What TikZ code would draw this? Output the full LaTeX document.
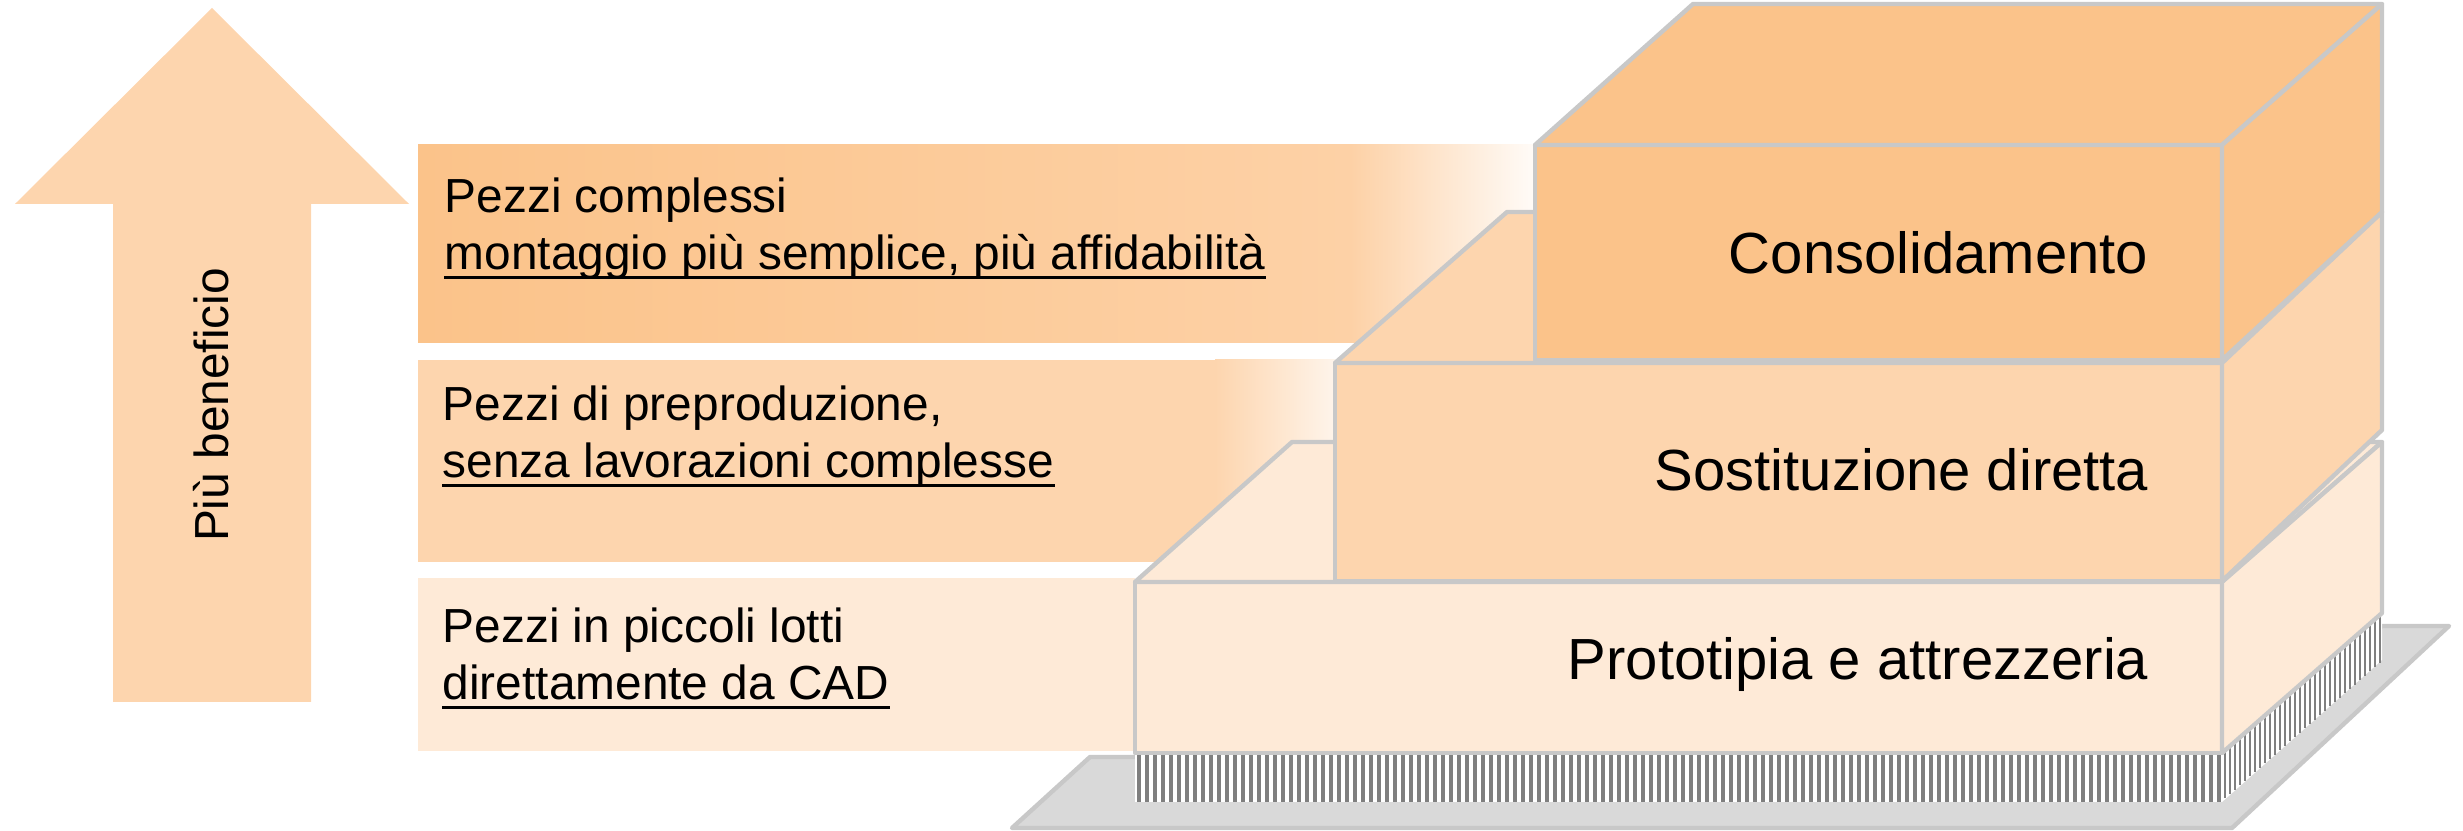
\documentclass[tikz,border=0pt]{standalone}
\usepackage{fontspec}
\setmainfont{Liberation Sans}
\usepackage{tikz}

\definecolor{arrowfill}{HTML}{FDD5AE}
\definecolor{topbox}{HTML}{FBC38A}
\definecolor{topfade}{HTML}{FDD1A6}
\definecolor{midbox}{HTML}{FDD5AE}
\definecolor{lowbox}{HTML}{FEEAD7}
\definecolor{edgegray}{HTML}{C8C8C8}
\definecolor{basegray}{HTML}{D9D9D9}
\definecolor{hatchgray}{HTML}{7F7F7F}

\tikzset{
    face/.style={draw=edgegray, line width=1.25pt, line join=round},
    bandtext/.style={anchor=base west, inner sep=0pt, font=\fontsize{13.6}{16.3}\selectfont},
    boxtext/.style={anchor=base east, inner sep=0pt, font=\fontsize{16.5}{19.8}\selectfont},
    underl/.style={line width=0.75pt}
}

\begin{document}
\begin{tikzpicture}[x=0.01cm, y=-0.01cm]
        \useasboundingbox (0,0) rectangle (2463,831);
        % bands
        \shade[left color=topbox, right color=topfade] (418,145) rectangle (1351,343);
        \shade[left color=topfade, right color=white!92!topfade] (1350,145) rectangle (1535,343);
        \fill[midbox] (418,360) rectangle (1216,562);
        \shade[left color=midbox, right color=white!75!midbox] (1215,360) rectangle (1335,562);
        \fill[lowbox] (418,578) rectangle (1135,751);
        % arrow
        \fill[arrowfill] (212,8) -- (409,204) -- (311,204) -- (311,702)
            -- (113,702) -- (113,204) -- (15,204) -- cycle;
        \node[rotate=90, inner sep=0pt, font=\fontsize{13.6}{16.3}\selectfont] (benefit) at (211,405) {Più beneficio};
        % base and hatching
        \draw[face, fill=basegray] (1012,828) -- (1090,757) -- (2222,757) -- (2382,626)
            -- (2449,626) -- (2232,828) -- cycle;
        \fill[white] (1135,753) rectangle (2222,802);
        \foreach \x in {1139,1147,...,2219}
            \draw[hatchgray, line width=0.04cm] (\x,753) -- (\x,802);
        \fill[white] (2222,753) -- (2382,613) -- (2382,660) -- (2222,802) -- cycle;
        \foreach \x in {2225,2230,...,2380}
            \draw[hatchgray, line width=0.025cm] (\x,{753-(\x-2222)*0.875}) -- ++(0,48);
        % boxes
        \foreach \xa/\ya/\yb/\xb/\yc/\yd/\col in {1135/582/753/1292/442/613/lowbox,
                1335/363/581/1507/212/430/midbox, 1535/145/360/1693/4/212/topbox}{
            \draw[face, fill=\col] (\xa,\ya) rectangle (2222,\yb);
            \draw[face, fill=\col] (\xa,\ya) -- (\xb,\yc) -- (2382,\yc) -- (2222,\ya) -- cycle;
            \draw[face, fill=\col] (2222,\ya) -- (2382,\yc) -- (2382,\yd) -- (2222,\yb) -- cycle;
        }
        \node[boxtext] (consol) at (2149,274) {Consolidamento};
        \node[boxtext] (sostit) at (2149,491) {Sostituzione diretta};
        \node[boxtext] (prototip) at (2149,680) {Prototipia e attrezzeria};
        % texts
        \node[bandtext] (compl) at (444,213) {Pezzi complessi};
        \node[bandtext] (complu) at (444,270) {montaggio più semplice, più affidabilità};
        \node[bandtext] (prepr) at (442,421) {Pezzi di preproduzione,};
        \node[bandtext] (prepru) at (442,478) {senza lavorazioni complesse};
        \node[bandtext] (lotti) at (442,643) {Pezzi in piccoli lotti};
        \node[bandtext] (lottiu) at (442,700) {direttamente da CAD};
        \foreach \n in {complu, prepru, lottiu}
            \draw[underl] ([yshift=-2.1pt]\n.base west) -- ([yshift=-2.1pt]\n.base east);
    \end{tikzpicture}
\end{document}
